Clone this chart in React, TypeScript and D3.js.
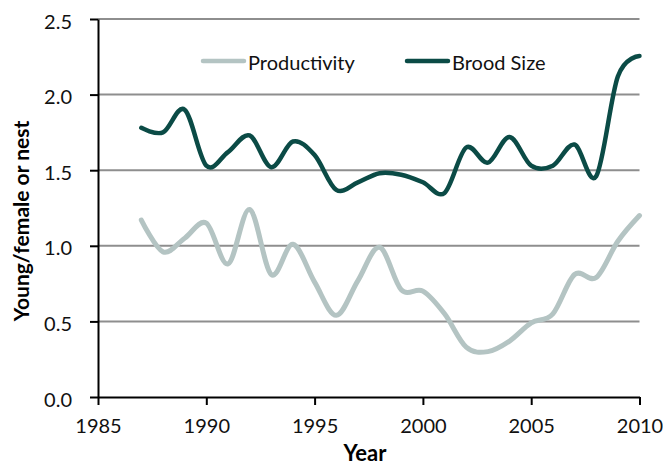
import React, { useEffect, useRef } from "react";
import * as d3 from "d3";

const years = [1987, 1988, 1989, 1990, 1991, 1992, 1993, 1994, 1995, 1996, 1997, 1998, 1999, 2000, 2001, 2002, 2003, 2004, 2005, 2006, 2007, 2008, 2009, 2010];
const productivity = [1.17, 0.96, 1.05, 1.15, 0.88, 1.24, 0.81, 1.01, 0.76, 0.54, 0.77, 0.99, 0.71, 0.7, 0.55, 0.33, 0.3, 0.37, 0.49, 0.55, 0.81, 0.79, 1.03, 1.2];
const broodSize = [1.78, 1.75, 1.9, 1.53, 1.62, 1.73, 1.52, 1.69, 1.6, 1.37, 1.42, 1.48, 1.47, 1.42, 1.35, 1.65, 1.55, 1.72, 1.53, 1.53, 1.67, 1.46, 2.12, 2.255];
const xTicks = [1985, 1990, 1995, 2000, 2005, 2010];
const yTicks = [0, 0.5, 1.0, 1.5, 2.0, 2.5];
const seriesNames = ["Productivity", "Brood Size"];

const W = 663;
const H = 467;
const M = { left: 98, right: 23.5, top: 19, bottom: 70 };
const FONT = "Lato, 'Open Sans', sans-serif";
const COLORS = ["#b4c4c3", "#0b4b46"];

export default function App() {
  const xAxisRef = useRef<SVGGElement>(null);
  const yAxisRef = useRef<SVGGElement>(null);

  const x = d3.scaleLinear().domain([1985, 2010]).range([M.left, W - M.right]);
  const y = d3.scaleLinear().domain([0, 2.5]).range([H - M.bottom, M.top]);

  useEffect(() => {
    const xa = d3.select(xAxisRef.current!);
    xa.call(
      d3.axisBottom(x).tickValues(xTicks).tickFormat(d3.format("d")).tickSizeInner(8).tickSizeOuter(0).tickPadding(14) as any
    );
    xa.select(".domain").attr("stroke", "#000").attr("stroke-width", 2);
    xa.selectAll(".tick line").attr("stroke", "#000").attr("stroke-width", 2);
    xa.selectAll(".tick text").attr("font-family", FONT).attr("font-size", 20).attr("fill", "#111");

    const ya = d3.select(yAxisRef.current!);
    ya.call(
      d3.axisLeft(y).tickValues(yTicks).tickFormat(d3.format(".1f")).tickSizeInner(8).tickSizeOuter(0).tickPadding(18) as any
    );
    ya.select(".domain").attr("stroke", "#000").attr("stroke-width", 2);
    ya.selectAll(".tick line").attr("stroke", "#000").attr("stroke-width", 2);
    ya.selectAll(".tick text").attr("font-family", FONT).attr("font-size", 20).attr("fill", "#111").attr("dy", "0.45em");
  }, []);

  const line = d3
    .line<number>()
    .x((_, i) => x(years[i]))
    .y((d) => y(d))
    .curve(d3.curveCardinal.tension(0));

  const series = [productivity, broodSize];
  const legendX = [203, 407];

  return (
    <svg width={W} height={H} style={{ position: "absolute", left: 0, top: 0, background: "#fff" }}>
      {yTicks
        .filter((t) => t > 0)
        .map((t) => (
          <line key={t} x1={x(1985)} x2={x(2010)} y1={y(t)} y2={y(t)} stroke="#8e8e8e" strokeWidth={2} />
        ))}
      {series.map((s, i) => (
        <path
          key={i}
          d={line(s) || ""}
          fill="none"
          stroke={COLORS[i]}
          strokeWidth={i === 0 ? 5 : 4.5}
          strokeLinecap="round"
          strokeLinejoin="round"
        />
      ))}
      <g ref={yAxisRef} transform={`translate(${M.left},0)`} />
      <g ref={xAxisRef} transform={`translate(0,${H - M.bottom})`} />
      {seriesNames.map((n, i) => (
        <g key={n}>
          <line x1={legendX[i]} x2={legendX[i] + 41} y1={61} y2={61} stroke={COLORS[i]} strokeWidth={4.5} strokeLinecap="round" />
          <text x={legendX[i] + 45} y={70} fontFamily={FONT} fontSize={20} fill="#111">
            {n}
          </text>
        </g>
      ))}
      <text
        transform={`translate(29,221) rotate(-90)`}
        textAnchor="middle"
        fontFamily={FONT}
        fontWeight="bold"
        fontSize={21}
        fill="#000"
      >
        Young/female or nest
      </text>
      <text x={365} y={461} textAnchor="middle" fontFamily={FONT} fontWeight="bold" fontSize={22} fill="#000">
        Year
      </text>
    </svg>
  );
}
